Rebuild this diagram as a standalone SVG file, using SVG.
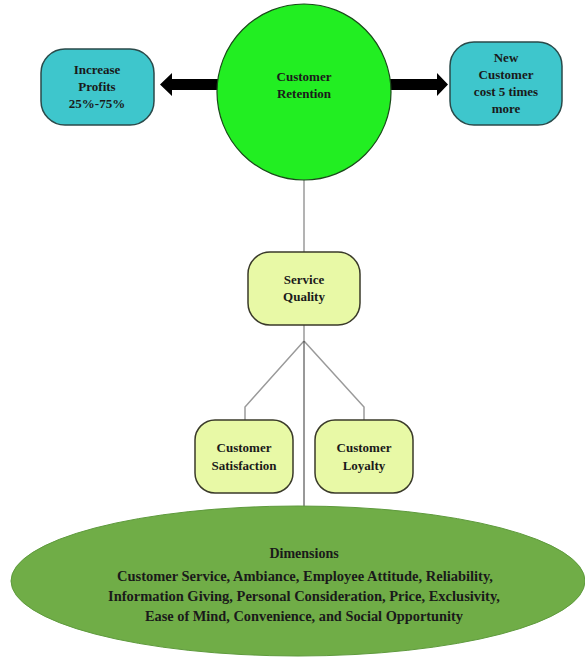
<svg xmlns="http://www.w3.org/2000/svg" width="585" height="658" viewBox="0 0 585 658">
<style>
text{font-family:"Liberation Serif","Times New Roman",serif;font-weight:bold;font-size:13px;text-anchor:middle;fill:#1a1a1a}
.big{font-size:14px}
.teal{fill:#3ec6cc;stroke:#2a4a4a;stroke-width:1.5}
.lime{fill:#e8f9a6;stroke:#3a3a2a;stroke-width:1.5}
.gl{fill:none;stroke:#9a9a9a;stroke-width:1.5}
.ar{fill:#000}
</style>
<rect width="585" height="658" fill="#fff"/>
<g id="connectors">
<polygon class="ar" points="218,79 172,79 172,73 160,84.5 172,96 172,90 218,90"/>
<polygon class="ar" points="390,79 437,79 437,73 448,84.5 437,96 437,90 390,90"/>
<line class="gl" x1="304" y1="180" x2="304" y2="252"/>
<polyline class="gl" points="304,325 304,341 245,407 245,420"/>
<polyline class="gl" points="304,341 364,407 364,420"/>
<line x1="304" y1="341" x2="304" y2="508" stroke="#333" stroke-width="1"/>
</g>
<g id="increase">
<rect class="teal" x="41" y="49" width="113" height="76" rx="24"/>
<text x="97" y="74">Increase</text>
<text x="97" y="91">Profits</text>
<text x="97" y="108">25%-75%</text>
</g>
<g id="retention">
<ellipse cx="304" cy="92" rx="87" ry="88" fill="#22ee22" stroke="#1a4a1a" stroke-width="1.2"/>
<text x="304" y="81" fill="#1d4d1d">Customer</text>
<text x="304" y="98" fill="#1d4d1d">Retention</text>
</g>
<g id="newcustomer">
<rect class="teal" x="450" y="42" width="112" height="83" rx="24"/>
<text x="506" y="62">New</text>
<text x="506" y="79">Customer</text>
<text x="506" y="96">cost 5 times</text>
<text x="506" y="113">more</text>
</g>
<g id="service">
<rect class="lime" x="248" y="252" width="112" height="73" rx="22"/>
<text x="304" y="284">Service</text>
<text x="304" y="301">Quality</text>
</g>
<g id="satisfaction">
<rect class="lime" x="195" y="420" width="98" height="73" rx="20"/>
<text x="244" y="452">Customer</text>
<text x="244" y="470">Satisfaction</text>
</g>
<g id="loyalty">
<rect class="lime" x="315" y="420" width="98" height="73" rx="20"/>
<text x="364" y="452">Customer</text>
<text x="364" y="470">Loyalty</text>
</g>
<g id="dimensions">
<ellipse cx="298" cy="581" rx="287" ry="75" fill="#70ad47" stroke="#5e9a3c" stroke-width="1"/>
<text class="big" x="304" y="558">Dimensions</text>
<text class="big" x="305" y="581" textLength="376" lengthAdjust="spacingAndGlyphs">Customer Service, Ambiance, Employee Attitude, Reliability,</text>
<text class="big" x="304" y="601" textLength="392" lengthAdjust="spacingAndGlyphs">Information Giving, Personal Consideration, Price, Exclusivity,</text>
<text class="big" x="304" y="621" textLength="318" lengthAdjust="spacingAndGlyphs">Ease of Mind, Convenience, and Social Opportunity</text>
</g>
</svg>
